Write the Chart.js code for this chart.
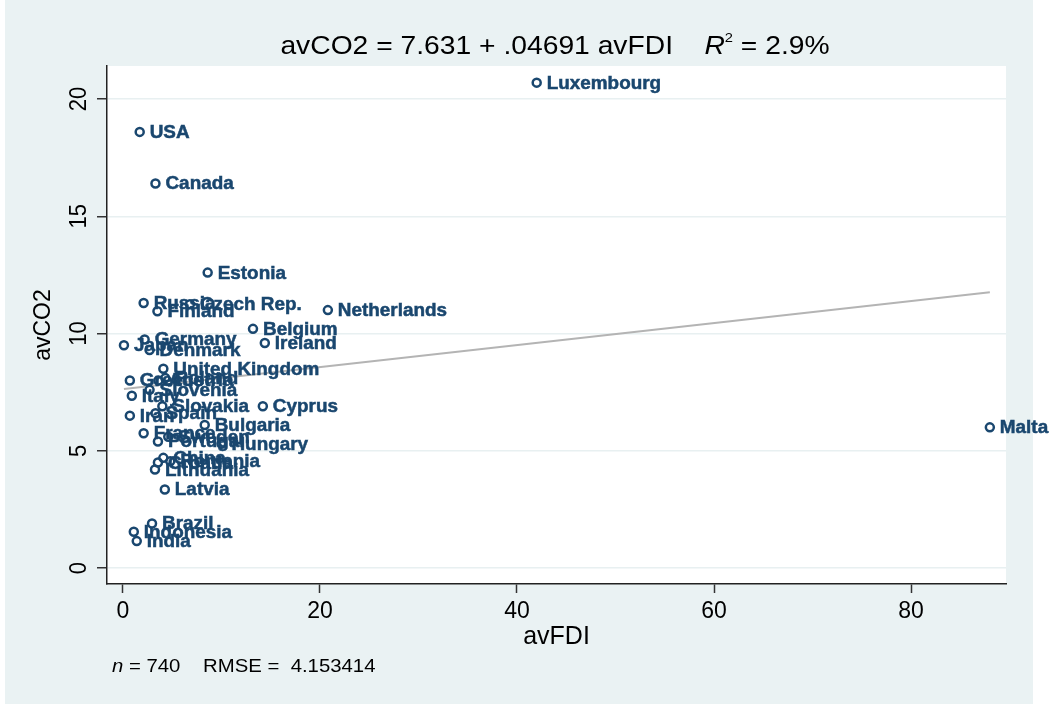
<!DOCTYPE html>
<html>
<head>
<meta charset="utf-8">
<script src="https://cdn.jsdelivr.net/npm/chart.js@4.4.0/dist/chart.umd.min.js"></script>
<style>
  html, body { margin: 0; padding: 0; background: #ffffff; }
  #wrap { position: relative; width: 1051px; height: 704px; overflow: hidden; }
  #bg { position: absolute; left: 5px; top: 0; width: 1028px; height: 704px; background: #eaf2f3; }
  #plotbg { position: absolute; left: 107px; top: 66px; width: 899px; height: 518px; background: #ffffff; }
  canvas { position: absolute; left: 0; top: 0; }
  .title { position: absolute; top: 30px; left: 0; width: 1110px; text-align: center;
           font: 25px "Liberation Sans", Arial, sans-serif; color: #000; white-space: pre;
           transform: scaleX(1.13); transform-origin: 555px 0; }
  .title sup { font-size: 13px; vertical-align: 12px; }
  .note { position: absolute; left: 112px; top: 656px; font: 18px "Liberation Sans", Arial, sans-serif;
          color: #000; white-space: pre; transform: scaleX(1.13); transform-origin: 0 0; }
</style>
</head>
<body>
<div id="wrap">
  <div id="bg"></div>
  <div id="plotbg"></div>
  <canvas id="chart" width="1051" height="704"></canvas>
  <div class="title">avCO2 = 7.631 + .04691 avFDI    <i>R</i><sup>2</sup> = 2.9%</div>
  <div class="note"><i>n</i> = 740    RMSE =  4.153414</div>
</div>
<script>
// country averages
const countries = ['Luxembourg', 'USA', 'Canada', 'Estonia', 'Russia', 'Czech Rep.', 'Finland',
  'Netherlands', 'Belgium', 'Ireland', 'Germany', 'Japan', 'Denmark', 'United Kingdom',
  'Greece', 'Austria', 'Poland', 'Slovenia', 'Italy', 'Iran', 'Spain', 'Slovakia', 'Cyprus',
  'Bulgaria', 'France', 'Sweden', 'Portugal', 'Hungary', 'China', 'Croatia', 'Romania',
  'Lithuania', 'Latvia', 'Brazil', 'Indonesia', 'India', 'Malta'];
const avFDI = [42.0, 1.7, 3.3, 8.6, 2.1, 6.8, 3.5,
  20.8, 13.2, 14.4, 2.2, 0.1, 2.7, 4.1,
  0.7, 3.6, 4.3, 2.7, 0.9, 0.7, 3.3, 4.0, 14.2,
  8.3, 2.1, 4.6, 3.55, 10.0, 4.1, 3.55, 4.8,
  3.25, 4.25, 2.95, 1.1, 1.4, 88.0];
const avCO2 = [20.7, 18.6, 16.4, 12.6, 11.3, 11.25, 10.95,
  11.0, 10.2, 9.6, 9.75, 9.5, 9.3, 8.5,
  8.0, 8.0, 8.1, 7.6, 7.35, 6.5, 6.6, 6.9, 6.9,
  6.1, 5.75, 5.6, 5.4, 5.3, 4.7, 4.5, 4.55,
  4.2, 3.35, 1.9, 1.55, 1.15, 6.0];

// fitted line from the printed equation
const intercept = 7.631;
const slope = 0.04691;

const xTicks = [0, 20, 40, 60, 80];
const yTicks = [0, 5, 10, 15, 20];

const navy = '#1a476f';
const xMin = Math.min(...avFDI), xMax = Math.max(...avFDI);
const fitData = [
  { x: xMin, y: intercept + slope * xMin },
  { x: xMax, y: intercept + slope * xMax }
];
const points = avFDI.map((x, i) => ({ x: x, y: avCO2[i] }));

// country names right of each marker
const labelPlugin = {
  id: 'labels',
  afterDatasetsDraw(chart) {
    const ctx = chart.ctx;
    const meta = chart.getDatasetMeta(1);
    ctx.save();
    ctx.font = 'bold 18px "Liberation Sans", Arial, sans-serif';
    ctx.fillStyle = navy;
    ctx.strokeStyle = navy;
    ctx.lineWidth = 0.5;
    ctx.textBaseline = 'middle';
    meta.data.forEach((el, i) => {
      ctx.save();
      ctx.translate(el.x + 10, el.y + 1);
      ctx.scale(1.05, 1);
      ctx.fillText(countries[i], 0, 0);
      ctx.strokeText(countries[i], 0, 0);
      ctx.restore();
    });
    ctx.restore();
  }
};

// vertical y tick labels, Stata style
const yLabelPlugin = {
  id: 'ylabels',
  afterDraw(chart) {
    const ctx = chart.ctx;
    const ys = chart.scales.y;
    ctx.save();
    ctx.font = '22px "Liberation Sans", Arial, sans-serif';
    ctx.fillStyle = '#000';
    ctx.textAlign = 'center';
    ctx.textBaseline = 'middle';
    yTicks.forEach(v => {
      const py = ys.getPixelForValue(v);
      ctx.save();
      ctx.translate(79, py);
      ctx.rotate(-Math.PI / 2);
      ctx.scale(1, 1.1);
      ctx.fillText(String(v), 0, 0);
      ctx.restore();
    });
    ctx.restore();
  }
};

new Chart(document.getElementById('chart'), {
  type: 'scatter',
  data: {
    datasets: [
      {
        type: 'line',
        data: fitData,
        borderColor: '#b4b4b4',
        borderWidth: 2,
        pointRadius: 0,
        fill: false,
        order: 2
      },
      {
        data: points,
        pointRadius: 4,
        pointBorderWidth: 2.5,
        pointBorderColor: navy,
        pointBackgroundColor: 'transparent',
        order: 1
      }
    ]
  },
  options: {
    responsive: false,
    animation: false,
    events: [],
    layout: { padding: { left: 26, right: 45, top: 66, bottom: 48 } },
    plugins: { legend: { display: false }, tooltip: { enabled: false } },
    scales: {
      x: {
        type: 'linear',
        min: -1.62,
        max: 89.64,
        afterBuildTicks: s => { s.ticks = xTicks.map(v => ({ value: v })); },
        afterFit: s => { s.height = 72; },
        grid: { drawOnChartArea: false, drawTicks: true, tickLength: 9, tickColor: '#333', tickWidth: 1.5 },
        border: { color: '#222', width: 1.5 },
        ticks: { color: '#000', padding: 5, font: { family: '"Liberation Sans", Arial, sans-serif', size: 23 } },
        title: {
          display: true, text: 'avFDI', color: '#000', padding: { top: 2, bottom: 4 },
          font: { family: '"Liberation Sans", Arial, sans-serif', size: 25 }
        }
      },
      y: {
        type: 'linear',
        min: -0.68,
        max: 21.41,
        afterBuildTicks: s => { s.ticks = yTicks.map(v => ({ value: v })); },
        afterFit: s => { s.width = 81; },
        grid: { color: '#e8f0f1', lineWidth: 1.5, drawTicks: true, tickLength: 10, tickColor: '#333', tickWidth: 1.5 },
        border: { color: '#222', width: 1.5 },
        ticks: { display: false },
        title: {
          display: true, text: 'avCO2', color: '#000',
          font: { family: '"Liberation Sans", Arial, sans-serif', size: 23 }
        }
      }
    }
  },
  plugins: [labelPlugin, yLabelPlugin]
});
</script>
</body>
</html>
